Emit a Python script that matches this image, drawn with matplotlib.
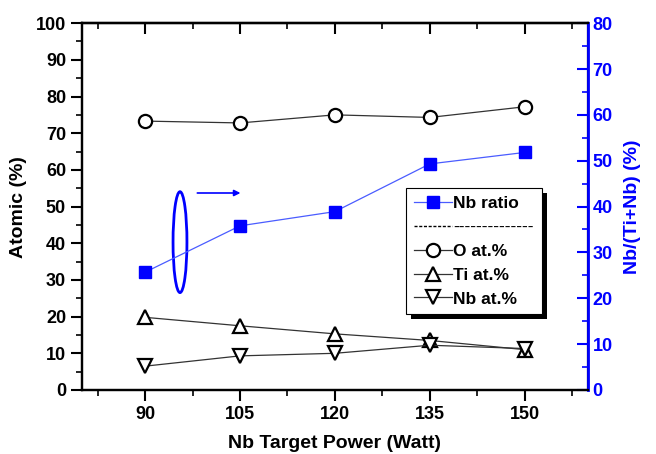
import matplotlib.pyplot as plt
from matplotlib.lines import Line2D
from matplotlib.patches import Ellipse, Rectangle

plt.rcParams['font.family'] = ['Liberation Sans', 'DejaVu Sans']
plt.rcParams['font.weight'] = 'bold'

# sputtering power and compositions
power = [90, 105, 120, 135, 150]
o_at = [73.3, 72.8, 75.0, 74.3, 77.2]
ti_at = [19.8, 17.5, 15.3, 13.5, 11.0]
nb_at = [6.5, 9.3, 10.0, 12.2, 11.3]
nb_ratio = [25.7, 35.8, 38.9, 49.3, 51.8]

fig = plt.figure(figsize=(6.56, 4.54), dpi=100)
ax = fig.add_axes([0.125, 0.141, 0.771, 0.808])
ax2 = ax.twinx()

ms = 9.5
ax.plot(power, o_at, color='#333333', lw=0.9, marker='o', ms=ms, mfc='white', mec='black', mew=1.6)
ax.plot(power, ti_at, color='#333333', lw=0.9, marker='^', ms=ms + 1, mfc='white', mec='black', mew=1.6)
ax.plot(power, nb_at, color='#333333', lw=0.9, marker='v', ms=ms + 1, mfc='white', mec='black', mew=1.6)
ax2.plot(power, nb_ratio, color='#4a5cff', lw=0.9, marker='s', ms=9, mfc='blue', mec='blue')

minor_x = [82.5, 97.5, 112.5, 127.5, 142.5, 157.5]
ax.set_xlim(80, 160)
ax.set_ylim(0, 100)
ax2.set_ylim(0, 80)
ax.set_xticks(power)
ax.set_xticks(minor_x, minor=True)
ax.set_yticks(range(0, 101, 10))
ax.set_yticks(range(5, 100, 10), minor=True)
ax2.set_yticks(range(0, 81, 10))
ax2.set_yticks(range(5, 80, 10), minor=True)

ax.tick_params(axis='both', which='major', labelsize=13, width=1.5, length=8, direction='out')
ax.tick_params(axis='both', which='minor', width=1.2, length=4, direction='out')
ax2.tick_params(axis='y', which='major', labelsize=13, width=1.5, length=8, direction='in', colors='blue')
ax2.tick_params(axis='y', which='minor', width=1.2, length=4, direction='in', colors='blue')

# top axis: inward ticks, no labels
top = ax.secondary_xaxis('top')
top.set_xticks(power)
top.set_xticks(minor_x, minor=True)
top.tick_params(which='major', direction='in', length=8, width=1.5, labeltop=False)
top.tick_params(which='minor', direction='in', length=4, width=1.2)
top.spines['top'].set_linewidth(1.6)

for s in ax.spines.values():
    s.set_linewidth(1.6)
for s in ax2.spines.values():
    s.set_linewidth(1.6)
ax2.spines['right'].set_color('blue')
ax2.spines['right'].set_linewidth(2)

ax.set_xlabel('Nb Target Power (Watt)', fontsize=14, fontweight='bold', labelpad=9)
ax.set_ylabel('Atomic (%)', fontsize=14, fontweight='bold', labelpad=6)
ax2.set_ylabel('Nb/(Ti+Nb) (%)', fontsize=14, fontweight='bold', color='blue', labelpad=8)

# arrow and ellipse pointing to the right axis
ax.add_patch(Ellipse((95.5, 40.3), 2.2, 27.5, fill=False, ec='blue', lw=2))
ax.annotate('', xy=(105.5, 53.7), xytext=(97.8, 53.7),
            arrowprops=dict(arrowstyle='-|>', color='blue', lw=1.2, mutation_scale=9))

handles = [
    Line2D([], [], color='#4a5cff', lw=0.9, marker='s', ms=9, mfc='blue', mec='blue'),
    Line2D([], [], color='black', lw=1.0, ls=(0, (2.2, 1.2))),
    Line2D([], [], color='#333333', lw=0.9, marker='o', ms=ms, mfc='white', mec='black', mew=1.6),
    Line2D([], [], color='#333333', lw=0.9, marker='^', ms=ms, mfc='white', mec='black', mew=1.6),
    Line2D([], [], color='#333333', lw=0.9, marker='v', ms=ms, mfc='white', mec='black', mew=1.6),
]
labels = ['Nb ratio', '--------------', 'O at.%', 'Ti at.%', 'Nb at.%']
leg = ax2.legend(handles, labels, loc='upper left', bbox_to_anchor=(0.64, 0.55),
                 fontsize=12.5, frameon=True, fancybox=False, framealpha=1,
                 edgecolor='black', handlelength=2.2, handletextpad=0.1, labelspacing=0.5,
                 borderpad=0.45, borderaxespad=0)
leg.get_frame().set_linewidth(0.8)
leg.get_texts()[1].set_fontweight('normal')

# thick black drop shadow behind the legend
fig.canvas.draw()
bb = leg.get_window_extent()
shadow = Rectangle((bb.x0 + 5, bb.y0 - 5), bb.width, bb.height, transform=None,
                   facecolor='black', edgecolor='none', zorder=4.5, clip_on=False)
ax2.add_artist(shadow)

fig.savefig('out.png', dpi=100)
